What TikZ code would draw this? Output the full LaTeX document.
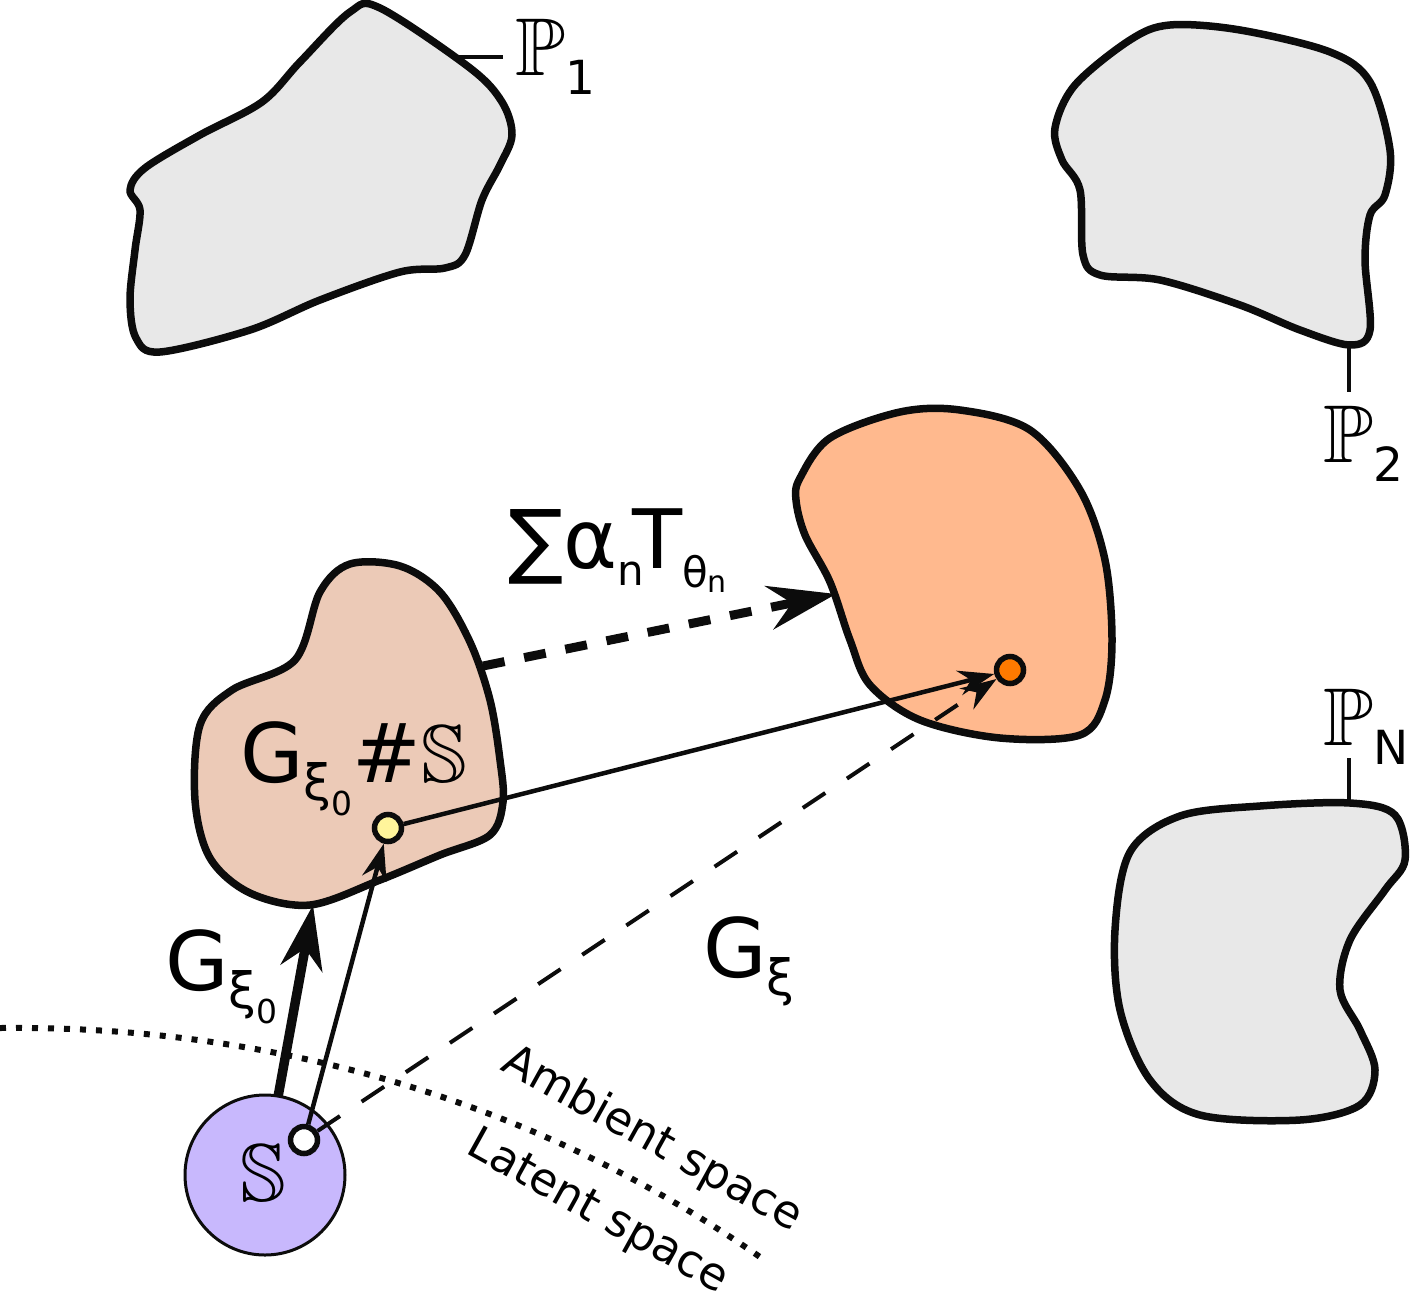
\documentclass[tikz,border=0pt]{standalone}
\usepackage{fontspec}
\setmainfont{DejaVu Sans}
\usepackage{amssymb}
\usetikzlibrary{arrows.meta}
\definecolor{blobgray}{RGB}{232,232,232}
\definecolor{tanfill}{RGB}{236,202,183}
\definecolor{peach}{RGB}{255,185,142}
\definecolor{latent}{RGB}{200,184,253}
\definecolor{ydot}{RGB}{255,245,155}
\definecolor{odot}{RGB}{255,122,0}
\definecolor{ink}{RGB}{12,12,12}
\newcommand\mysubxi{\raisebox{-18pt}{\fontsize{50}{50}\selectfont ξ\raisebox{-15pt}{\fontsize{33}{33}\selectfont 0}}}
\newcommand\mybbP[1]{$\mathbb{P}$\raisebox{-19pt}{\fontsize{47}{47}\selectfont #1}}
\begin{document}
\begin{tikzpicture}[x=1pt,y=-1pt,
  blob/.style={line width=7.5pt, draw=ink, line join=round},
  grayblob/.style={blob, fill=blobgray},
  lab/.style={inner sep=0, anchor=base west, font=\fontsize{82}{90}\selectfont},
  spacelab/.style={inner sep=0, rotate=-29, font=\fontsize{45}{45}\selectfont},
  leader/.style={line width=3.6pt, draw=ink},
  thinarrow/.style={line width=4.5pt, draw=ink, -{Stealth[length=36pt,width=25pt,inset=12pt]}},
  dotnode/.style={circle, draw=ink, line width=5.5pt, inner sep=0, minimum size=27pt}]
\useasboundingbox (0,0) rectangle (1410,1293);

% grey blobs
\draw[grayblob] plot[smooth cycle, tension=0.55] coordinates {(130,190) (145,168) (200,135) (262,102) (300,62) (350,12) (380,8) (470,68) (502,102) (512,135) (500,165) (482,200) (465,255) (445,268) (400,272) (320,300) (250,330) (160,352) (136,338) (130,300) (135,250) (140,210)};
\draw[grayblob] plot[smooth cycle, tension=0.55] coordinates {(1062,160) (1055,128) (1075,85) (1130,40) (1170,25) (1240,30) (1330,52) (1370,82) (1390,150) (1385,195) (1370,215) (1365,260) (1370,330) (1350,345) (1300,330) (1240,305) (1160,280) (1100,275) (1083,255) (1080,190)};
\draw[grayblob] plot[smooth cycle, tension=0.55] coordinates {(1130,852) (1180,816) (1260,806) (1350,803) (1395,815) (1405,860) (1385,890) (1350,940) (1340,990) (1360,1030) (1375,1070) (1360,1105) (1300,1120) (1200,1115) (1150,1080) (1120,1010) (1115,930)};

% coloured blobs
\draw[blob, fill=peach] plot[smooth cycle, tension=0.55] coordinates {(800,478) (830,438) (900,412) (960,410) (1030,430) (1080,490) (1105,560) (1112,640) (1105,700) (1080,735) (1000,738) (920,720) (870,685) (850,640) (830,582) (805,535) (796,500)};
\draw[blob, fill=tanfill] plot[smooth cycle, tension=0.55] coordinates {(295,660) (320,592) (350,564) (400,566) (440,592) (470,642) (490,700) (500,760) (503,802) (490,835) (440,855) (380,880) (310,905) (250,893) (210,858) (195,800) (200,725) (232,690)};

% latent circle
\node[circle, fill=latent, draw=ink, line width=3pt, minimum size=160pt, inner sep=0] (S) at (265,1175) {};
\node[inner sep=0, font=\fontsize{82}{90}\selectfont] (Slab) at (263,1173) {$\mathbb{S}$};

% dotted boundary between spaces
\coordinate (d0) at (0,1028);
\coordinate (d1) at (250,1025);
\coordinate (d2) at (520,1090);
\coordinate (d3) at (760,1257);
\draw[line width=6pt, draw=ink, dash pattern=on 6pt off 10pt] (d0) .. controls (d1) and (d2) .. (d3);

% points
\node[dotnode, fill=white] (W) at (304,1140) {};
\node[dotnode, fill=ydot] (Y) at (388,828) {};
\node[dotnode, fill=odot] (O) at (1010,670) {};

% arrows
\coordinate (gs) at (278,1097);
\coordinate (ge) at (313,905);
\draw[line width=9.5pt, draw=ink, -{Stealth[length=64pt,width=42pt,inset=20pt]}] (gs) -- (ge);
\draw[thinarrow] (W) -- (Y);
\draw[thinarrow] (Y) -- (O);
\draw[line width=4pt, draw=ink, dash pattern=on 27pt off 26pt, -{Stealth[length=36pt,width=25pt,inset=12pt]}] (W) -- (O);
\coordinate (ta) at (483,666);
\coordinate (tb) at (836,594);
\draw[line width=9pt, draw=ink, dash pattern=on 22pt off 20pt, -{Stealth[length=68pt,width=44pt,inset=23pt]}] (ta) -- (tb);

% leaders
\coordinate (l1a) at (455,57); \coordinate (l1b) at (503,57);
\coordinate (l2a) at (1349,345); \coordinate (l2b) at (1349,392);
\coordinate (l3a) at (1349,758); \coordinate (l3b) at (1349,803);
\draw[leader] (l1a) -- (l1b);
\draw[leader] (l2a) -- (l2b);
\draw[leader] (l3a) -- (l3b);

% labels
\node[lab] (P1) at (515,75) {\mybbP{1}};
\node[lab] (P2) at (1323,462) {\mybbP{2}};
\node[lab] (PN) at (1323,745) {\mybbP{N}};
\node[lab] (Gpush) at (240,782) {G\mysubxi\#$\mathbb{S}$};
\node[lab] (Gzero) at (165,990) {G\mysubxi};
\node[lab] (Gxi) at (703,977) {G\raisebox{-18pt}{\fontsize{50}{50}\selectfont ξ}};
\node[lab] (Tsum) at (508,568) {∑α\raisebox{-17pt}{\fontsize{42}{42}\selectfont n}\kern-12pt T\raisebox{-19pt}{\fontsize{42}{42}\selectfont θ\raisebox{-5pt}{\fontsize{30}{30}\selectfont n}}};
\node[spacelab] (amb) at (652,1140) {Ambient space};
\node[spacelab] (lat) at (597,1213) {Latent space};
\end{tikzpicture}
\end{document}
